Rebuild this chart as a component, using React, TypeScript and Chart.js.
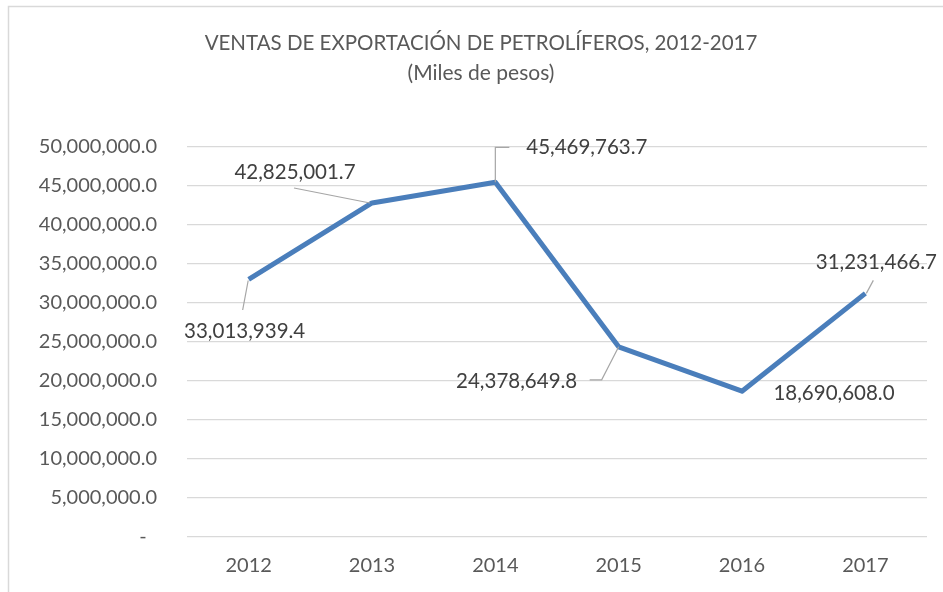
import React, { useEffect, useRef } from "react";
import { Chart, registerables } from "chart.js";

Chart.register(...registerables);

const categories = ["2012", "2013", "2014", "2015", "2016", "2017"];
const ventas = [33013939.4, 42825001.7, 45469763.7, 24378649.8, 18690608.0, 31231466.7];
const yTickValues = [0, 5000000, 10000000, 15000000, 20000000, 25000000, 30000000, 35000000, 40000000, 45000000, 50000000];
const titleLines = ["VENTAS DE EXPORTACIÓN DE PETROLÍFEROS, 2012-2017", "(Miles de pesos)"];

// label placement relative to each point, in pixels (style only)
const labelPlacement = [
  { dx: -4, dy: 52, leader: [[-0.5, 1], [-6, 30.5]] },
  { dx: -77, dy: -31, leader: [[-2, 0], [-78, -15]] },
  { dx: 91.5, dy: -35, leader: [[0, 0], [0, -35], [14, -35]] },
  { dx: -102, dy: 35, leader: [[0, 0], [-17, 33], [-29, 33]] },
  { dx: 92, dy: 2, leader: [] },
  { dx: 11, dy: -31, leader: [[1, 0], [8, -13]] },
];

const FONT = "Lato";

const fmt = (v: number) =>
  v === 0
    ? "-  "
    : v.toLocaleString("en-US", { minimumFractionDigits: 1, maximumFractionDigits: 1 });

const decorPlugin = {
  id: "decor",
  beforeDraw(chart: any) {
    const ctx = chart.ctx;
    ctx.save();
    ctx.fillStyle = "#ffffff";
    ctx.fillRect(0, 0, chart.width, chart.height);
    ctx.strokeStyle = "#d9d9d9";
    ctx.lineWidth = 1.5;
    ctx.beginPath();
    ctx.moveTo(8.5, chart.height + 5);
    ctx.lineTo(8.5, 6.5);
    ctx.lineTo(chart.width + 5, 6.5);
    ctx.stroke();
    ctx.fillStyle = "#595959";
    ctx.font = `20.5px ${FONT}`;
    ctx.textAlign = "center";
    ctx.textBaseline = "middle";
    ctx.fillText(titleLines[0], 481, 43);
    ctx.font = `21px ${FONT}`;
    ctx.fillText(titleLines[1], 481, 73);
    ctx.restore();
  },
  afterDatasetsDraw(chart: any) {
    const ctx = chart.ctx;
    const meta = chart.getDatasetMeta(0);
    ctx.save();
    meta.data.forEach((pt: any, i: number) => {
      const p = labelPlacement[i];
      const x = pt.x;
      const y = pt.y;
      if (p.leader.length > 1) {
        ctx.strokeStyle = "#a6a6a6";
        ctx.lineWidth = 1.2;
        ctx.beginPath();
        p.leader.forEach((l: number[], k: number) => {
          if (k === 0) ctx.moveTo(x + l[0], y + l[1]);
          else ctx.lineTo(x + l[0], y + l[1]);
        });
        ctx.stroke();
      }
      ctx.fillStyle = "#404040";
      ctx.font = `20.5px ${FONT}`;
      ctx.textAlign = "center";
      ctx.textBaseline = "middle";
      ctx.fillText(fmt(ventas[i]), x + p.dx, y + p.dy);
    });
    ctx.restore();
  },
};

export default function App() {
  const ref = useRef<HTMLCanvasElement | null>(null);
  useEffect(() => {
    if (!ref.current) return;
    const chart = new Chart(ref.current, {
      type: "line",
      data: {
        labels: categories,
        datasets: [
          {
            data: ventas,
            borderColor: "#4A7EBB",
            backgroundColor: "#4A7EBB",
            borderWidth: 5,
            pointRadius: 0,
            tension: 0,
            borderCapStyle: "butt",
            borderJoinStyle: "round",
            clip: false as any,
          },
        ],
      },
      options: {
        animation: false,
        responsive: false,
        maintainAspectRatio: false,
        devicePixelRatio: 1,
        layout: { padding: { top: 147, right: 16, bottom: 0, left: 0 } },
        plugins: {
          legend: { display: false },
          title: { display: false },
          tooltip: { enabled: false },
        },
        scales: {
          x: {
            offset: true,
            grid: { display: false, drawTicks: false },
            border: { display: false },
            ticks: {
              color: "#595959",
              font: { family: FONT, size: 20 },
              padding: 17,
              maxRotation: 0,
            },
            afterFit: (s: any) => {
              s.height = 55;
            },
          },
          y: {
            min: 0,
            max: 50000000,
            grid: { color: "#d9d9d9", lineWidth: 1.3, drawTicks: false },
            border: { display: false },
            ticks: {
              color: "#595959",
              font: { family: FONT, size: 20 },
              padding: 30,
              callback: (v: any) => fmt(Number(v)),
            },
            afterBuildTicks: (s: any) => {
              s.ticks = yTickValues.map((v) => ({ value: v }));
            },
            afterFit: (s: any) => {
              s.width = 187;
            },
          },
        },
      },
      plugins: [decorPlugin],
    });
    return () => chart.destroy();
  }, []);
  return (
    <div style={{ position: "absolute", left: 0, top: 0, width: 943, height: 592, overflow: "hidden", background: "#fff" }}>
      <canvas ref={ref} width={943} height={592} style={{ display: "block", width: 943, height: 592 }} />
    </div>
  );
}
